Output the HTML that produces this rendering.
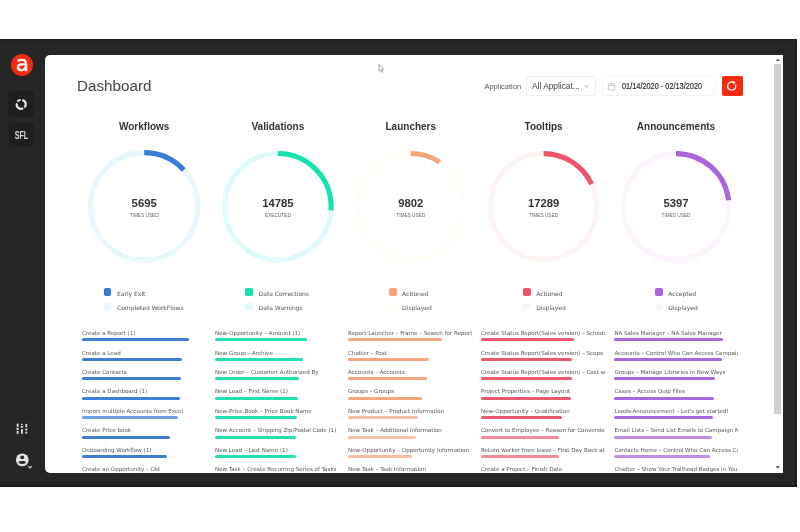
<!DOCTYPE html>
<html><head><meta charset="utf-8">
<style>
*{margin:0;padding:0;box-sizing:border-box}
html,body{width:800px;height:532px;overflow:hidden;background:#fff;font-family:"Liberation Sans",Arial,sans-serif}
#frame{position:absolute;left:0;top:39px;width:797px;height:448px;background:#262626}
#frame .edge{position:absolute;right:0;top:0;width:2px;height:100%;background:#1d1d1d}
#logo{position:absolute;left:11px;top:54.3px;width:22px;height:22px;border-radius:50%;background:#f52a0e}
#logo span{position:absolute;left:0.4px;top:-1.5px;width:22px;text-align:center;color:#fff;font:21.5px/22px "DejaVu Sans",sans-serif;-webkit-text-stroke:0.45px #fff}
.sbox{position:absolute;background:#1f1f1f;border-radius:2px}
#sfl span{position:absolute;left:0;top:0.7px;width:25px;text-align:center;color:#dcdcdc;font:bold 10.2px/24px "Liberation Sans",sans-serif;transform:scaleX(0.7);transform-origin:12.2px 0}
#panel{position:absolute;left:45px;top:55px;width:737.5px;height:417.5px;background:#fff;border-radius:5px 0 0 5px;overflow:hidden}
#content{position:absolute;left:-45px;top:-55px;width:800px;height:532px}
.title{position:absolute;width:120px;text-align:center;top:122.3px;font:bold 10px/10px "Liberation Sans",sans-serif;color:#333}
.num{position:absolute;width:80px;text-align:center;top:198.2px;font:bold 11.3px/11px "Liberation Sans",sans-serif;color:#333}
.lbl{position:absolute;width:80px;text-align:center;top:212.9px;font:4.75px/5px "Liberation Sans",sans-serif;color:#666}
.sq{position:absolute;width:7.7px;height:7.7px;border-radius:1.8px}
.leg{position:absolute;font:6px/8px "DejaVu Sans",sans-serif;color:#555;white-space:nowrap}
.it{position:absolute;width:123.5px;overflow:hidden;white-space:nowrap;font:5.55px/10px "DejaVu Sans",sans-serif;color:#555}
.bar{position:absolute;height:3px;border-radius:1.5px}
#dash{position:absolute;left:77.1px;top:77.4px;font:15.2px/18px "Liberation Sans",sans-serif;color:#444}
#applbl{position:absolute;left:484.4px;top:82px;font:7.5px/9px "Liberation Sans",sans-serif;color:#555}
#sel{position:absolute;left:526px;top:75.7px;width:70px;height:20.5px;border:1px solid #efefef;border-radius:2px}
#sel span{position:absolute;left:5px;top:4.4px;font:8.35px/11px "Liberation Sans",sans-serif;color:#444;white-space:nowrap}
#sel i{position:absolute;left:57.5px;top:7.6px;width:2.6px;height:2.6px;border-right:0.9px solid #c4c4c4;border-bottom:0.9px solid #c4c4c4;transform:rotate(45deg)}
#date{position:absolute;left:602px;top:75.5px;width:114px;height:20px;border:1px solid #f4f4f4;border-radius:2px}
#date span{position:absolute;left:18.8px;top:4.3px;font:8.6px/10px "Liberation Sans",sans-serif;color:#2e2e2e;-webkit-text-stroke:0.2px #2e2e2e;white-space:nowrap;transform:scaleX(0.855);transform-origin:0 0}
#btn{position:absolute;left:722px;top:75.8px;width:20.5px;height:20.5px;background:#f52a0e;border-radius:2px}
#sb{position:absolute;left:772.5px;top:55px;width:10px;height:417.5px;background:#fff}
#thumb{position:absolute;left:774.2px;top:64px;width:6.6px;height:350px;background:#cfcfcf}
</style></head><body>
<div id="frame"><div class="edge"></div><div style="position:absolute;left:0;top:0;width:100%;height:1.5px;background:#202020"></div><div style="position:absolute;left:0;bottom:0;width:100%;height:2.2px;background:#191919"></div></div>
<div id="logo"><span>a</span></div>
<div class="sbox" style="left:8px;top:91px;width:26.4px;height:26px"></div>
<svg style="position:absolute;left:0;top:0" width="45" height="532">
<g fill="none" stroke="#e8e8e8" stroke-width="2.1">
<path d="M17.4,101.6 A4.2,4.2 0 0 1 20.6,100.0"/>
<path d="M22.3,100.1 A4.2,4.2 0 0 1 24.3,107.4"/>
<path d="M23.1,108.2 A4.2,4.2 0 0 1 16.9,103.3"/>
</g>
<g fill="#dedede">
<rect x="16.7" y="423.4" width="1.8" height="3.6" rx="0.6"/>
<rect x="16.3" y="428.1" width="2.6" height="1.7" rx="0.6"/>
<rect x="16.7" y="430.8" width="1.8" height="3.1" rx="0.6"/>
<rect x="21.0" y="423.8" width="1.8" height="1.1" rx="0.5"/>
<rect x="20.6" y="426.1" width="2.6" height="1.6" rx="0.6"/>
<rect x="21.0" y="429.0" width="1.8" height="4.9" rx="0.6"/>
<rect x="25.4" y="423.8" width="1.8" height="3.5" rx="0.6"/>
<rect x="25.0" y="428.8" width="2.6" height="1.5" rx="0.6"/>
<rect x="25.4" y="431.6" width="1.8" height="2.1" rx="0.6"/>
</g>
<circle cx="22.3" cy="459.9" r="6.4" fill="#e2e2e2"/>
<circle cx="22.2" cy="457.3" r="1.9" fill="#262626"/>
<ellipse cx="22.2" cy="462.5" rx="3.5" ry="1.4" fill="#262626"/>
<path d="M28.2,466.1 L30,467.9 L31.8,466.1" stroke="#d8d8d8" stroke-width="1.1" fill="none"/>
</svg>
<div class="sbox" id="sfl" style="left:9.3px;top:123.2px;width:25px;height:24.2px"><span>SFL</span></div>
<div id="panel"><div id="content">
<div id="dash">Dashboard</div>
<svg style="position:absolute;left:0;top:0" width="800" height="532">
<path d="M379,64.4 L379,71.2 L380.6,69.9 L381.9,72.3 L382.9,71.8 L381.7,69.4 L383.8,69.2 Z" fill="#fff" stroke="#888" stroke-width="0.8" stroke-linejoin="round"/>
<circle cx="144.2" cy="206.3" r="53.7" fill="none" stroke="#e8f6fd" stroke-width="5.1"/>
<path d="M144.20,152.60 A53.7,53.7 0 0 1 183.73,169.95" fill="none" stroke="#387cd8" stroke-width="5.1"/>
<circle cx="277.9" cy="206.7" r="53.2" fill="none" stroke="#e0f9fb" stroke-width="5.1"/>
<path d="M277.90,153.50 A53.2,53.2 0 0 1 330.98,210.32" fill="none" stroke="#16e2b0" stroke-width="5.1"/>
<circle cx="410.8" cy="206.6" r="53.1" fill="none" stroke="#fffdf6" stroke-width="5.1"/>
<path d="M410.80,153.50 A53.1,53.1 0 0 1 439.72,162.07" fill="none" stroke="#f4a57b" stroke-width="5.1"/>
<circle cx="543.6" cy="206.6" r="53.0" fill="none" stroke="#fdf4f3" stroke-width="5.1"/>
<path d="M543.60,153.60 A53.0,53.0 0 0 1 591.60,184.12" fill="none" stroke="#ef546a" stroke-width="5.1"/>
<circle cx="676.0" cy="206.6" r="53.0" fill="none" stroke="#fdf4fe" stroke-width="5.1"/>
<path d="M676.00,153.60 A53.0,53.0 0 0 1 728.63,200.32" fill="none" stroke="#aa65dc" stroke-width="5.1"/>
</svg>
<div id="applbl">Application</div>
<div id="sel"><span>All Applicat...</span><i></i></div>
<div id="date">
<svg style="position:absolute;left:4px;top:5.5px" width="10" height="10"><rect x="1.3" y="1.8" width="6.4" height="6.4" rx="0.8" fill="none" stroke="#bdbdbd" stroke-width="0.8"/><path d="M1.3,3.6 H7.7 M3,1 V2.5 M6,1 V2.5" stroke="#bdbdbd" stroke-width="0.8"/></svg>
<span>01/14/2020 - 02/13/2020</span></div>
<div id="btn"><svg width="20.5" height="20.5"><path d="M13.4,8.3 A4.1,4.1 0 1 1 11.3,6.3" fill="none" stroke="#fff" stroke-width="1.3"/><path d="M10.6,4.7 L13.6,6.2 L11.2,8.3 Z" fill="#fff"/></svg></div>
<div class="title" style="left:84.19999999999999px">Workflows</div>
<div class="num" style="left:104.19999999999999px">5695</div>
<div class="lbl" style="left:104.19999999999999px">TIMES USED</div>
<div class="sq" style="left:103.8px;top:288.4px;background:#387cd8"></div>
<div class="sq" style="left:103.8px;top:302.5px;background:#e8f6fd"></div>
<div class="leg" style="left:117.0px;top:289.5px">Early Exit</div>
<div class="leg" style="left:117.0px;top:303.5px">Completed WorkFlows</div>
<div class="it" style="left:82px;top:328.10px">Create a Report (1)</div>
<div class="bar" style="left:82px;top:338.00px;width:107.0px;background:#3d7fd6"></div>
<div class="it" style="left:82px;top:347.55px">Create a Lead</div>
<div class="bar" style="left:82px;top:358.00px;width:100.0px;background:#3d7fd6"></div>
<div class="it" style="left:82px;top:367.00px">Create Contacts</div>
<div class="bar" style="left:82px;top:377.00px;width:99.0px;background:#3d7fd6"></div>
<div class="it" style="left:82px;top:386.45px">Create a Dashboard (1)</div>
<div class="bar" style="left:82px;top:397.00px;width:98.0px;background:#3d7fd6"></div>
<div class="it" style="left:82px;top:405.90px">Import multiple Accounts from Excel</div>
<div class="bar" style="left:82px;top:416.00px;width:96.0px;background:#3d7fd6;opacity:0.75"></div>
<div class="it" style="left:82px;top:425.35px">Create Price book</div>
<div class="bar" style="left:82px;top:436.00px;width:88.0px;background:#3d7fd6"></div>
<div class="it" style="left:82px;top:444.80px">Onboarding Workflow (1)</div>
<div class="bar" style="left:82px;top:455.00px;width:85.0px;background:#3d7fd6"></div>
<div class="it" style="left:82px;top:464.25px">Create an Opportunity – Old</div>
<div class="bar" style="left:82px;top:475.00px;width:83.0px;background:#3d7fd6"></div>
<div class="title" style="left:217.89999999999998px">Validations</div>
<div class="num" style="left:237.89999999999998px">14785</div>
<div class="lbl" style="left:237.89999999999998px">EXECUTED</div>
<div class="sq" style="left:245.4px;top:288.4px;background:#16e2b0"></div>
<div class="sq" style="left:245.4px;top:302.5px;background:#e0f9fb"></div>
<div class="leg" style="left:258.6px;top:289.5px">Data Corrections</div>
<div class="leg" style="left:258.6px;top:303.5px">Data Warnings</div>
<div class="it" style="left:215px;top:328.10px">New-Opportunity – Amount (1)</div>
<div class="bar" style="left:215px;top:338.00px;width:91.5px;background:#22e0b2"></div>
<div class="it" style="left:215px;top:347.55px">New Group – Archive</div>
<div class="bar" style="left:215px;top:358.00px;width:87.5px;background:#22e0b2"></div>
<div class="it" style="left:215px;top:367.00px">New Order – Customer Authorized By</div>
<div class="bar" style="left:215px;top:377.00px;width:84.0px;background:#22e0b2"></div>
<div class="it" style="left:215px;top:386.45px">New Lead – First Name (1)</div>
<div class="bar" style="left:215px;top:397.00px;width:83.0px;background:#22e0b2"></div>
<div class="it" style="left:215px;top:405.90px">New-Price Book – Price Book Name</div>
<div class="bar" style="left:215px;top:416.00px;width:82.3px;background:#22e0b2"></div>
<div class="it" style="left:215px;top:425.35px">New Account – Shipping Zip/Postal Code (1)</div>
<div class="bar" style="left:215px;top:436.00px;width:81.4px;background:#22e0b2"></div>
<div class="it" style="left:215px;top:444.80px">New Lead – Last Name (1)</div>
<div class="bar" style="left:215px;top:455.00px;width:80.5px;background:#22e0b2"></div>
<div class="it" style="left:215px;top:464.25px">New Task – Create Recurring Series of Tasks</div>
<div class="bar" style="left:215px;top:475.00px;width:79.0px;background:#22e0b2"></div>
<div class="title" style="left:350.8px">Launchers</div>
<div class="num" style="left:370.8px">9802</div>
<div class="lbl" style="left:370.8px">TIMES USED</div>
<div class="sq" style="left:388.9px;top:288.4px;background:#f4a57b"></div>
<div class="sq" style="left:388.9px;top:302.5px;background:#fffdf6"></div>
<div class="leg" style="left:402.09999999999997px;top:289.5px">Actioned</div>
<div class="leg" style="left:402.09999999999997px;top:303.5px">Displayed</div>
<div class="it" style="left:348px;top:328.10px">Report Launcher – Frame – Search for Report</div>
<div class="bar" style="left:348px;top:338.00px;width:93.6px;background:#f4a67d"></div>
<div class="it" style="left:348px;top:347.55px">Chatter – Post</div>
<div class="bar" style="left:348px;top:358.00px;width:81.4px;background:#f4a67d"></div>
<div class="it" style="left:348px;top:367.00px">Accounts – Accounts</div>
<div class="bar" style="left:348px;top:377.00px;width:78.8px;background:#f4a67d"></div>
<div class="it" style="left:348px;top:386.45px">Groups – Groups</div>
<div class="bar" style="left:348px;top:397.00px;width:74.4px;background:#f4a67d"></div>
<div class="it" style="left:348px;top:405.90px">New Product – Product Information</div>
<div class="bar" style="left:348px;top:416.00px;width:69.5px;background:#f4a67d;opacity:0.7"></div>
<div class="it" style="left:348px;top:425.35px">New Task – Additional Information</div>
<div class="bar" style="left:348px;top:436.00px;width:68.3px;background:#f4a67d;opacity:0.7"></div>
<div class="it" style="left:348px;top:444.80px">New-Opportunity – Opportunity Information</div>
<div class="bar" style="left:348px;top:455.00px;width:63.9px;background:#f4a67d;opacity:0.75"></div>
<div class="it" style="left:348px;top:464.25px">New Task – Task Information</div>
<div class="bar" style="left:348px;top:475.00px;width:62.0px;background:#f4a67d"></div>
<div class="title" style="left:483.6px">Tooltips</div>
<div class="num" style="left:503.6px">17289</div>
<div class="lbl" style="left:503.6px">TIMES USED</div>
<div class="sq" style="left:523.0px;top:288.4px;background:#ef546a"></div>
<div class="sq" style="left:523.0px;top:302.5px;background:#fdf4f3"></div>
<div class="leg" style="left:536.2px;top:289.5px">Actioned</div>
<div class="leg" style="left:536.2px;top:303.5px">Displayed</div>
<div class="it" style="left:481px;top:328.10px">Create Status Report(Sales version) – Schedule</div>
<div class="bar" style="left:481px;top:338.00px;width:92.8px;background:#ec586b"></div>
<div class="it" style="left:481px;top:347.55px">Create Status Report(Sales version) – Scope</div>
<div class="bar" style="left:481px;top:358.00px;width:91.0px;background:#ec586b"></div>
<div class="it" style="left:481px;top:367.00px">Create Status Report(Sales version) – Cost and Budget</div>
<div class="bar" style="left:481px;top:377.00px;width:90.7px;background:#ec586b"></div>
<div class="it" style="left:481px;top:386.45px">Project Properties – Page Layout</div>
<div class="bar" style="left:481px;top:397.00px;width:89.6px;background:#ec586b"></div>
<div class="it" style="left:481px;top:405.90px">New-Opportunity – Qualification</div>
<div class="bar" style="left:481px;top:416.00px;width:81.4px;background:#ec586b"></div>
<div class="it" style="left:481px;top:425.35px">Convert to Employee – Reason for Conversion</div>
<div class="bar" style="left:481px;top:436.00px;width:78.2px;background:#ec586b;opacity:0.7"></div>
<div class="it" style="left:481px;top:444.80px">Return worker from leave – First Day Back at Work</div>
<div class="bar" style="left:481px;top:455.00px;width:78.2px;background:#ec586b;opacity:0.7"></div>
<div class="it" style="left:481px;top:464.25px">Create a Project – Finish Date</div>
<div class="bar" style="left:481px;top:475.00px;width:77.0px;background:#ec586b"></div>
<div class="title" style="left:616.0px">Announcements</div>
<div class="num" style="left:636.0px">5397</div>
<div class="lbl" style="left:636.0px">TIMES USED</div>
<div class="sq" style="left:655.0px;top:288.4px;background:#aa65dc"></div>
<div class="sq" style="left:655.0px;top:302.5px;background:#fdf4fe"></div>
<div class="leg" style="left:668.2px;top:289.5px">Accepted</div>
<div class="leg" style="left:668.2px;top:303.5px">Displayed</div>
<div class="it" style="left:614.4px;top:328.10px">NA Sales Manager – NA Sales Manager</div>
<div class="bar" style="left:614.4px;top:338.00px;width:109.0px;background:#ab67dc"></div>
<div class="it" style="left:614.4px;top:347.55px">Accounts – Control Who Can Access Campaigns</div>
<div class="bar" style="left:614.4px;top:358.00px;width:108.1px;background:#ab67dc"></div>
<div class="it" style="left:614.4px;top:367.00px">Groups – Manage Libraries in New Ways</div>
<div class="bar" style="left:614.4px;top:377.00px;width:101.1px;background:#ab67dc"></div>
<div class="it" style="left:614.4px;top:386.45px">Cases – Access Quip Files</div>
<div class="bar" style="left:614.4px;top:397.00px;width:99.4px;background:#ab67dc"></div>
<div class="it" style="left:614.4px;top:405.90px">Leads-Announcement – Let's get started!</div>
<div class="bar" style="left:614.4px;top:416.00px;width:98.5px;background:#ab67dc"></div>
<div class="it" style="left:614.4px;top:425.35px">Email Lists – Send List Emails to Campaign Members</div>
<div class="bar" style="left:614.4px;top:436.00px;width:97.3px;background:#ab67dc;opacity:0.75"></div>
<div class="it" style="left:614.4px;top:444.80px">Contacts Home – Control Who Can Access Cases</div>
<div class="bar" style="left:614.4px;top:455.00px;width:95.9px;background:#ab67dc;opacity:0.75"></div>
<div class="it" style="left:614.4px;top:464.25px">Chatter – Show Your Trailhead Badges in Your Profile</div>
<div class="bar" style="left:614.4px;top:475.00px;width:94.6px;background:#ab67dc"></div>
<div id="sb"></div>
<div id="thumb"></div>
<svg style="position:absolute;left:772px;top:55px" width="11" height="418"><path d="M3.6,6 L5.8,3.8 L8,6Z" fill="#666"/><path d="M3.6,411.2 L5.8,413.4 L8,411.2Z" fill="#444"/></svg>
</div></div>
</body></html>
